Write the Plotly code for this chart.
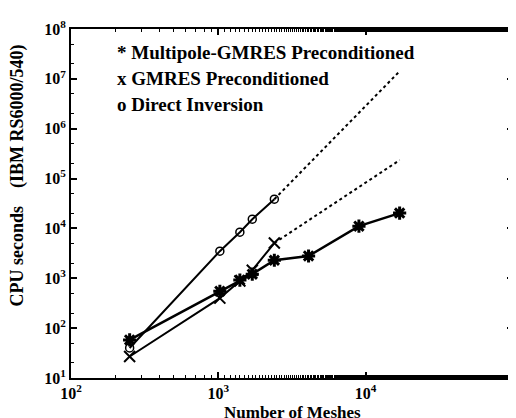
import plotly.graph_objects as go

# Data
mesh_multipole = [250, 1024, 1400, 1700, 2400, 4096, 9000, 17000]
cpu_multipole = [58, 550, 920, 1210, 2300, 2800, 11100, 20300]

mesh_gmres = [250, 1024, 1400, 1700, 2400]
cpu_gmres = [27, 400, 880, 1450, 5100]

mesh_direct = [250, 1024, 1400, 1700, 2400]
cpu_direct = [40, 3500, 8400, 15300, 38600]

mesh_extrap = [2400, 17000]
cpu_gmres_extrap = [5100, 234000]
cpu_direct_extrap = [38600, 14200000]

x_tickvals = [100, 1000, 10000, 100000]
x_ticktext = ["<b>10<sup>2</sup></b>", "<b>10<sup>3</sup></b>", "<b>10<sup>4</sup></b>", "<b>10<sup>5</sup></b>"]
y_tickvals = [10, 100, 1e3, 1e4, 1e5, 1e6, 1e7, 1e8]
y_ticktext = ["<b>10<sup>%d</sup></b>" % k for k in range(1, 9)]

legend_lines = [
    "* Multipole-GMRES Preconditioned",
    "x GMRES Preconditioned",
    "o Direct Inversion",
]

SERIF = "Liberation Serif"
BLACK = "black"

fig = go.Figure()

fig.add_trace(go.Scatter(
    x=mesh_direct, y=cpu_direct, mode="lines+markers",
    line=dict(color=BLACK, width=2),
    marker=dict(symbol="circle-open", size=8, color=BLACK, line=dict(width=1.5, color=BLACK)),
))
fig.add_trace(go.Scatter(
    x=mesh_gmres, y=cpu_gmres, mode="lines+markers",
    line=dict(color=BLACK, width=2),
    marker=dict(symbol="x-thin-open", size=11, color=BLACK, line=dict(width=2, color=BLACK)),
))
fig.add_trace(go.Scatter(
    x=mesh_multipole, y=cpu_multipole, mode="lines+markers",
    line=dict(color=BLACK, width=2.5),
    marker=dict(symbol="asterisk-open", size=11, color=BLACK, line=dict(width=3, color=BLACK)),
))
fig.add_trace(go.Scatter(
    x=mesh_extrap, y=cpu_direct_extrap, mode="lines",
    line=dict(color=BLACK, width=2, dash="dot"),
))
fig.add_trace(go.Scatter(
    x=mesh_extrap, y=cpu_gmres_extrap, mode="lines",
    line=dict(color=BLACK, width=2, dash="dot"),
))

axis_common = dict(
    type="log", showgrid=False, zeroline=False,
    showline=True, linecolor=BLACK, linewidth=2, mirror="allticks",
    ticks="inside", ticklen=6, tickwidth=1.5, tickcolor=BLACK,
    minor=dict(ticks="inside", ticklen=3, tickwidth=1, tickcolor=BLACK, showgrid=False),
    tickfont=dict(family=SERIF, size=16, color=BLACK),
)

fig.update_xaxes(range=[2, 5], tickvals=x_tickvals, ticktext=x_ticktext, **axis_common)
fig.update_yaxes(range=[1, 8], tickvals=y_tickvals, ticktext=y_ticktext, ticklabelstandoff=0, **axis_common)

annotations = []
for i, txt in enumerate(legend_lines):
    annotations.append(dict(
        xref="paper", yref="paper", x=0.099, y=[0.934, 0.857, 0.785][i],
        xanchor="left", yanchor="middle", showarrow=False, text="<b>" + txt + "</b>",
        font=dict(family=SERIF, size=19, color=BLACK),
    ))
annotations.append(dict(
    xref="paper", yref="paper", x=0.5, y=-0.1, xanchor="center", yanchor="middle",
    showarrow=False, text="<b>Number of Meshes</b>", borderpad=0,
    font=dict(family=SERIF, size=17, color=BLACK),
))
annotations.append(dict(
    xref="paper", yref="paper", x=-0.12, y=0.58, xanchor="center", yanchor="middle",
    showarrow=False, textangle=-90,
    text="<b>CPU seconds\u00a0\u00a0\u00a0\u00a0(IBM RS6000/540)</b>",
    font=dict(family=SERIF, size=18, color=BLACK),
))

fig.update_layout(
    width=516, height=418,
    margin=dict(l=63, r=9, t=21, b=48),
    paper_bgcolor="white", plot_bgcolor="white",
    showlegend=False,
    annotations=annotations,
)

fig.write_html("out.html")
